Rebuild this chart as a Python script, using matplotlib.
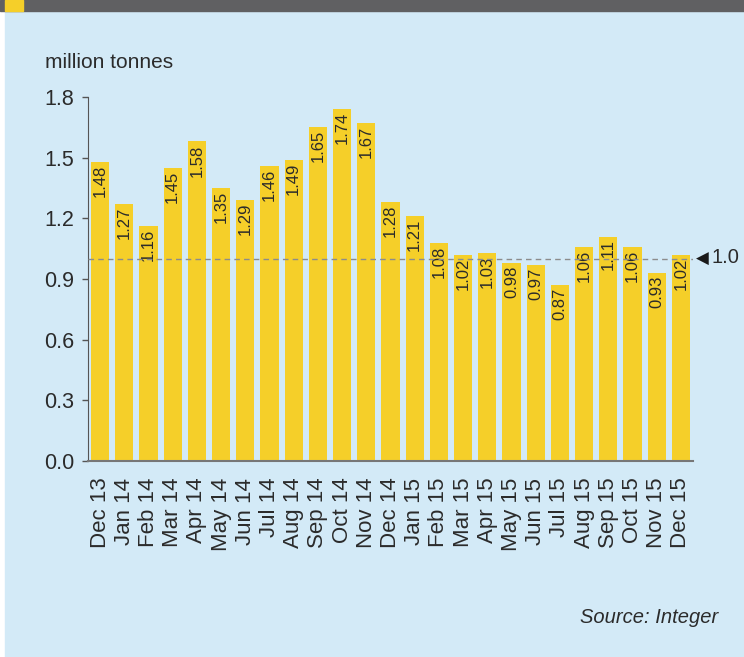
import numpy as np
import matplotlib
matplotlib.use('Agg')
import matplotlib.pyplot as plt
from matplotlib.patches import Rectangle

months = ['Dec 13', 'Jan 14', 'Feb 14', 'Mar 14', 'Apr 14', 'May 14', 'Jun 14',
          'Jul 14', 'Aug 14', 'Sep 14', 'Oct 14', 'Nov 14', 'Dec 14',
          'Jan 15', 'Feb 15', 'Mar 15', 'Apr 15', 'May 15', 'Jun 15',
          'Jul 15', 'Aug 15', 'Sep 15', 'Oct 15', 'Nov 15', 'Dec 15']
volumes = [1.48, 1.27, 1.16, 1.45, 1.58, 1.35, 1.29, 1.46, 1.49, 1.65, 1.74, 1.67, 1.28,
           1.21, 1.08, 1.02, 1.03, 0.98, 0.97, 0.87, 1.06, 1.11, 1.06, 0.93, 1.02]
yticks = [0.0, 0.3, 0.6, 0.9, 1.2, 1.5, 1.8]
ref_level = 1.0

bg = '#d3eaf7'
bar_col = '#f5cf29'
txt = '#2b2b2b'
plt.rcParams['font.family'] = ['Liberation Sans', 'DejaVu Sans']

fig = plt.figure(figsize=(7.44, 6.57), dpi=100)
fig.patch.set_facecolor('white')
# panel, header band and yellow tab
fig.add_artist(Rectangle((5 / 744, 0), 1, 1, transform=fig.transFigure, color=bg, zorder=0))
fig.add_artist(Rectangle((0, 1 - 11 / 657), 1, 11 / 657, transform=fig.transFigure,
                         color='#606062', zorder=1))
fig.add_artist(Rectangle((5 / 744, 1 - 11 / 657), 18 / 744, 11 / 657, transform=fig.transFigure,
                         color=bar_col, zorder=2))

ax = fig.add_axes([88 / 744, 1 - 461 / 657, 605 / 744, 364 / 657])
ax.set_facecolor('none')

x = np.arange(len(months))
ax.bar(x, volumes, width=0.745, color=bar_col, zorder=2)
for xi, v in zip(x, volumes):
    ax.annotate(f'{v:.2f}', (xi, v), xytext=(0, -2), textcoords='offset points',
                rotation=90, ha='center', va='top', fontsize=12, color=txt, zorder=3)

ax.axhline(ref_level, color='#8c8c8c', lw=1, ls=(0, (4, 3)), zorder=4)
ax.annotate('\u25c0', (1, ref_level), xycoords=('axes fraction', 'data'),
            xytext=(2, 0), textcoords='offset points', va='center', ha='left',
            fontsize=12, color='#1a1a1a', family=['DejaVu Sans'])
ax.annotate('1.0', (1, ref_level), xycoords=('axes fraction', 'data'),
            xytext=(13, 1), textcoords='offset points', va='center', ha='left',
            fontsize=14.5, color=txt)

ax.set_xlim(-0.5, len(months) - 0.5)
ax.set_ylim(0, 1.8)
ax.set_yticks(yticks)
ax.set_yticklabels([f'{t:.1f}' for t in yticks], fontsize=15.5, color=txt)
ax.set_xticks(x)
ax.set_xticklabels(months, rotation=90, fontsize=16, color=txt)
ax.tick_params(axis='x', length=0, pad=12)
ax.tick_params(axis='y', length=4, color='#555555', width=1, pad=6)
for s in ['top', 'right']:
    ax.spines[s].set_visible(False)
ax.spines['left'].set_color('#555555')
ax.spines['bottom'].set_color('#777777')
ax.spines['bottom'].set_linewidth(1.5)

fig.text(45 / 744, 1 - 68 / 657, 'million tonnes', fontsize=15, color=txt)
fig.text(718 / 744, 1 - 623 / 657, 'Source: Integer', fontsize=14.5, color=txt,
         style='italic', ha='right')

fig.savefig('out.png', dpi=100, facecolor=fig.get_facecolor())
